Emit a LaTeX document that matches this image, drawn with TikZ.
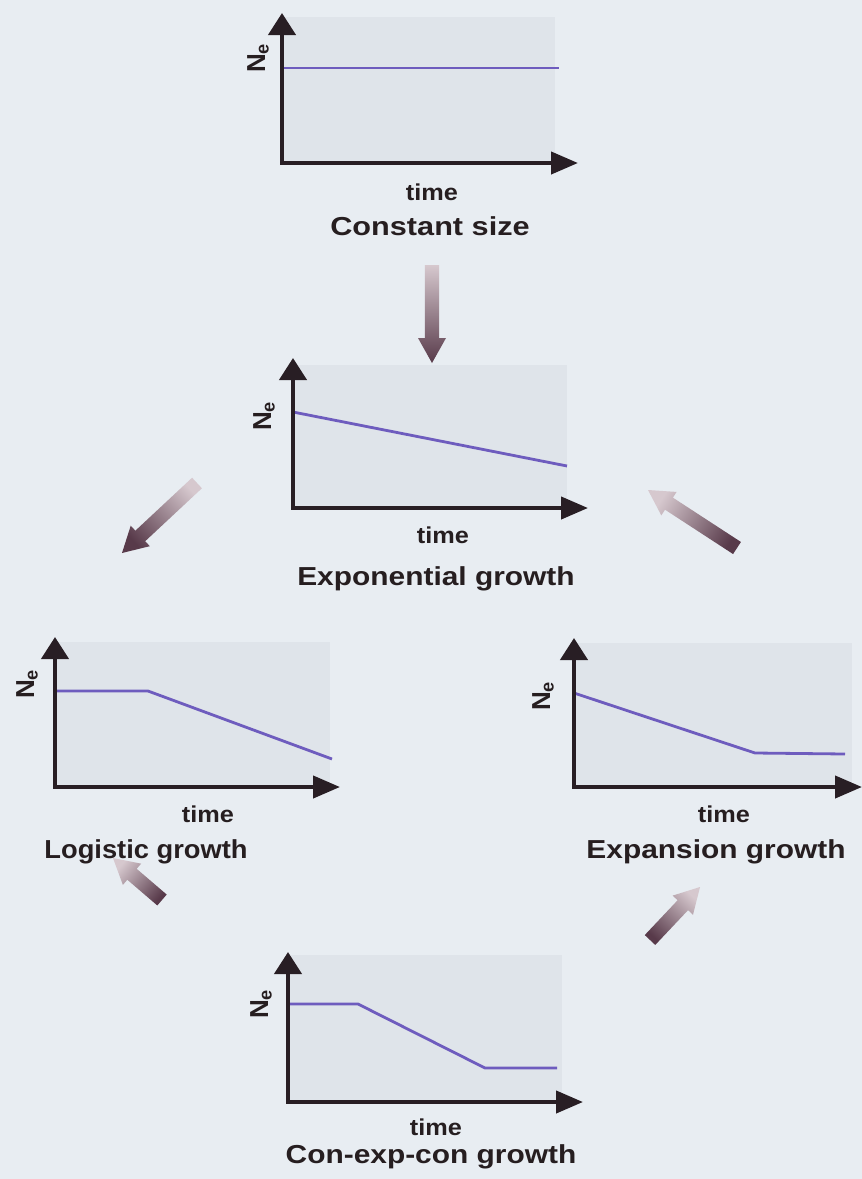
\documentclass[tikz,border=0pt]{standalone}
\usepackage{fontspec}
\setmainfont{Liberation Sans}
\usetikzlibrary{arrows.meta,calc}
\definecolor{bgc}{RGB}{232,237,242}
\definecolor{plotbg}{RGB}{223,228,234}
\definecolor{axc}{RGB}{40,30,36}
\definecolor{curvec}{RGB}{110,92,190}
\definecolor{txtc}{RGB}{38,30,32}
\definecolor{arlight}{RGB}{214,200,206}
\definecolor{ardark}{RGB}{88,58,74}
\newcommand{\wtxt}[2][1.15]{\scalebox{#1}[1]{#2}}
\newcommand{\blockarrow}[6]{% name, tail, head, tail colour, head colour, shading angle
  \coordinate (#1-b) at ($(#3)!12.5pt!(#2)$);
  \path[top color=#5, bottom color=#4, shading angle=#6]
    ($(#2)!3.6pt!90:(#3)$) -- ($(#1-b)!3.6pt!90:(#3)$) -- ($(#1-b)!7pt!90:(#3)$)
    -- (#3) -- ($(#1-b)!7pt!-90:(#3)$) -- ($(#1-b)!3.6pt!-90:(#3)$)
    -- ($(#2)!3.6pt!-90:(#3)$) -- cycle;
}
\tikzset{
  axes/.style={draw=axc, line width=2.1pt, line join=miter,
    {Triangle[width=13.5pt,length=11pt]}-{Triangle[width=11pt,length=13.5pt]}},
  curveline/.style={draw=curvec, line width=1.4pt},
  plotbox/.style={fill=plotbg},
  timelabel/.style={anchor=base, inner sep=0pt, text=txtc, font=\bfseries\fontsize{11.5}{13}\selectfont},
  titlelabel/.style={anchor=base, inner sep=0pt, text=txtc, font=\bfseries\fontsize{13}{15}\selectfont},
  nelabel/.style={rotate=90, inner sep=0pt, text=txtc, font=\bfseries\fontsize{13}{14}\selectfont},
}
\begin{document}
\begin{tikzpicture}[x=0.5pt,y=-0.5pt]
\fill[bgc] (0,0) rectangle (862,1179);
\useasboundingbox (0,0) rectangle (862,1179);

% ---- Plot 1: constant size
\fill[plotbox] (282,17) rectangle (555,163);
\draw[curveline] (282,68) -- (559,68);
\draw[axes] (282,13) -- (282,163) -- (578,163);
\node[nelabel] (p1ne) at (258,58) {N\textsubscript{e}};
\node[timelabel] (p1time) at (432,200) {\wtxt[1.1]{time}};
\node[titlelabel] (p1title) at (430,235) {\wtxt[1.18]{Constant size}};

% ---- Plot 2: exponential growth
\fill[plotbox] (293,365) rectangle (567,508);
\draw[curveline] (293,412) -- (567,466);
\draw[axes] (293,358) -- (293,508) -- (588,508);
\node[nelabel] (p2ne) at (264,416) {N\textsubscript{e}};
\node[timelabel] (p2time) at (443,543) {\wtxt[1.1]{time}};
\node[titlelabel] (p2title) at (436,585) {\wtxt{Exponential growth}};

% ---- Plot 3: logistic growth
\fill[plotbox] (55,642) rectangle (330,787);
\draw[curveline] (55,691) -- (148,691) -- (332,759);
\draw[axes] (55,637) -- (55,787) -- (340,787);
\node[nelabel] (p3ne) at (27,684) {N\textsubscript{e}};
\node[timelabel] (p3time) at (208,822) {\wtxt[1.1]{time}};
\node[titlelabel] (p3title) at (146,858) {\wtxt[1.05]{Logistic growth}};

% ---- Plot 4: expansion growth
\fill[plotbox] (574,643) rectangle (852,787);
\draw[curveline] (574,693) -- (755,753) -- (845,754);
\draw[axes] (574,638) -- (574,787) -- (862,787);
\node[nelabel] (p4ne) at (543,696) {N\textsubscript{e}};
\node[timelabel] (p4time) at (724,822) {\wtxt[1.1]{time}};
\node[titlelabel] (p4title) at (716,858) {\wtxt{Expansion growth}};

% ---- Plot 5: con-exp-con growth
\fill[plotbox] (288,955) rectangle (562,1102);
\draw[curveline] (288,1004) -- (358,1004) -- (485,1068) -- (557,1068);
\draw[axes] (288,952) -- (288,1102) -- (583,1102);
\node[nelabel] (p5ne) at (261,1004) {N\textsubscript{e}};
\node[timelabel] (p5time) at (436,1135) {\wtxt[1.1]{time}};
\node[titlelabel] (p5title) at (431,1163) {\wtxt{Con-exp-con growth}};

% ---- block arrows
\coordinate (a1t) at (432,265); \coordinate (a1h) at (432,363);
\coordinate (a2t) at (197,483); \coordinate (a2h) at (122,553);
\coordinate (a3t) at (737,548); \coordinate (a3h) at (648,490);
\coordinate (a4t) at (162,900); \coordinate (a4h) at (113,858);
\coordinate (a5t) at (650,940); \coordinate (a5h) at (700,887);
\blockarrow{a1}{a1t}{a1h}{arlight}{ardark}{180}
\blockarrow{a2}{a2t}{a2h}{arlight}{ardark}{133}
\blockarrow{a3}{a3t}{a3h}{ardark}{arlight}{57}
\blockarrow{a4}{a4t}{a4h}{ardark}{arlight}{49.4}
\blockarrow{a5}{a5t}{a5h}{ardark}{arlight}{-43.3}
\end{tikzpicture}
\end{document}
